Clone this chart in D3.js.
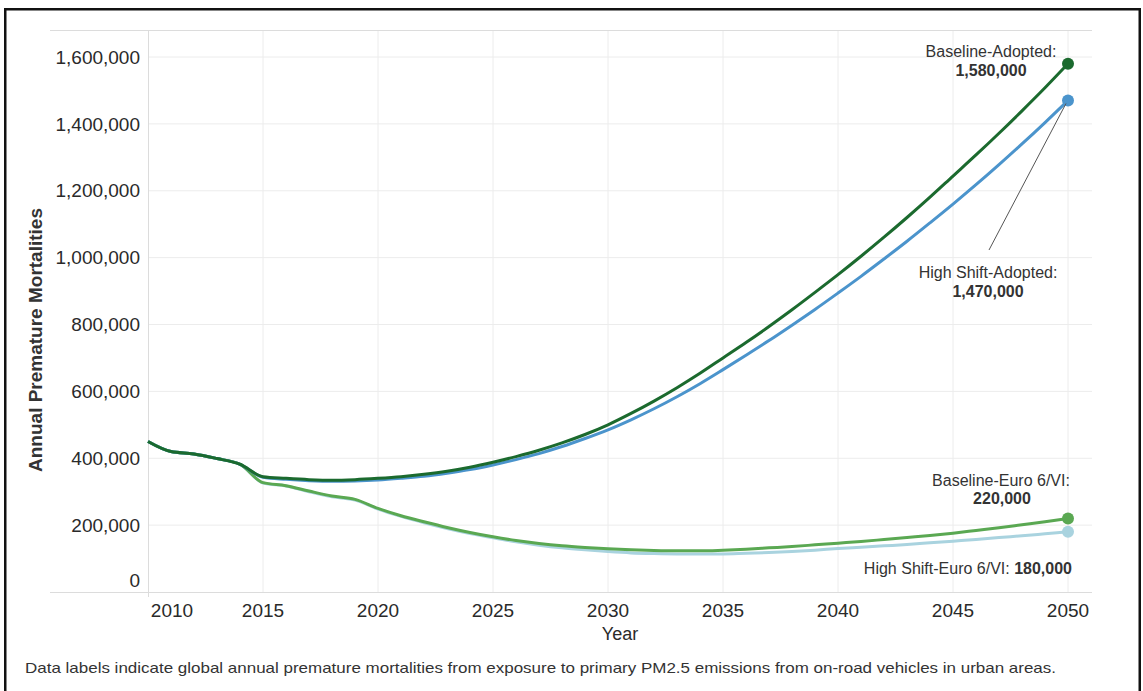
<!DOCTYPE html>
<html><head><meta charset="utf-8">
<script src="https://cdn.jsdelivr.net/npm/d3@7"></script>
<style>body{margin:0;background:#fff;}svg{display:block;font-family:Arial,"Liberation Sans",Helvetica,sans-serif;}</style>
</head><body><svg id="c" width="1143" height="691"></svg>
<script>
const years = d3.range(2010, 2051);
const baselineAdopted = [450,420,413,399,382,345,340,336,334,336,340,345,352,361,373,388,405,424,446,471,500,534,571,611,654,700,746,794,844,896,949,1004,1061,1120,1181,1244,1307,1372,1439,1508,1580].map(v=>v*1000);
const highShiftAdopted = [450,420,413,399,382,343,337,333,331,332,335,340,346,355,366,380,396,414,435,459,485,515,548,584,623,665,708,752,798,845,894,944,996,1049,1104,1160,1218,1278,1340,1404,1470].map(v=>v*1000);
const baselineEuro = [450,420,413,399,382,327,318,302,287,277,250,228,210,193,178,165,154,145,138,133,129,126,124,123,123,125,128,132,136,141,146,151,157,163,169,176,184,192,201,210,220].map(v=>v*1000);
const highShiftEuro = [450,420,413,399,382,326,317,300,285,275,248,226,207,190,175,162,150,140,132,126,121,117,115,114,114,114,116,118,121,125,130,134,138,142,147,152,157,163,168,174,180].map(v=>v*1000);
const yTicks = [0,200000,400000,600000,800000,1000000,1200000,1400000,1600000];
const xTicks = [2010,2015,2020,2025,2030,2035,2040,2045,2050];

const svg = d3.select("#c");
const x = d3.scaleLinear().domain([2010,2050]).range([148,1068]);
const y = d3.scaleLinear().domain([0,1600000]).range([592,57]);

// outer frame
svg.append("rect").attr("x",5.25).attr("y",9.25).attr("width",1134.5).attr("height",700).attr("fill","none").attr("stroke","#111").attr("stroke-width",2.5);

// gridlines
const g = svg.append("g");
g.selectAll(".hg").data(yTicks.slice(1)).join("line").attr("x1",148).attr("x2",1092).attr("y1",d=>y(d)).attr("y2",d=>y(d)).attr("stroke","#ececec").attr("stroke-width",1);
g.selectAll(".vg").data(xTicks.slice(1)).join("line").attr("x1",d=>x(d)).attr("x2",d=>x(d)).attr("y1",30).attr("y2",592).attr("stroke","#ececec").attr("stroke-width",1);
// plot frame lines
g.append("line").attr("x1",50).attr("x2",1092).attr("y1",30.5).attr("y2",30.5).attr("stroke","#dcdcdc");
g.append("line").attr("x1",50).attr("x2",1092).attr("y1",592.5).attr("y2",592.5).attr("stroke","#dcdcdc");
g.append("line").attr("x1",148.5).attr("x2",148.5).attr("y1",30).attr("y2",597).attr("stroke","#dcdcdc");

// y axis labels
svg.append("g").selectAll("text").data(yTicks).join("text")
  .attr("x",140).attr("y",d=> d===0 ? 580 : y(d)).attr("dy","0.35em").attr("text-anchor","end")
  .attr("font-size",19).attr("fill","#2a2a2a").text(d=>d3.format(",")(d));

// x axis labels
svg.append("clipPath").attr("id","xc").append("rect").attr("x",0).attr("y",590).attr("width",1089).attr("height",40);
svg.append("g").attr("clip-path","url(#xc)").selectAll("text").data(xTicks).join("text")
  .attr("x",d=> d===2010 ? x(d)+24 : x(d)).attr("y",610).attr("dy","0.35em").attr("text-anchor","middle")
  .attr("font-size",19).attr("fill","#2a2a2a").text(d=>d);

// axis titles
svg.append("text").attr("transform","translate(35,340) rotate(-90)").attr("text-anchor","middle").attr("dy","0.35em")
  .attr("font-size",19).attr("font-weight","bold").attr("fill","#333").text("Annual Premature Mortalities");
svg.append("text").attr("x",620).attr("y",634).attr("dy","0.35em").attr("text-anchor","middle").attr("font-size",18).attr("fill","#2a2a2a").text("Year");

// lines
const series = [
  {name:"High Shift-Euro 6/VI", vals:highShiftEuro, color:"#a9d3df"},
  {name:"Baseline-Euro 6/VI", vals:baselineEuro, color:"#5aa852"},
  {name:"High Shift-Adopted", vals:highShiftAdopted, color:"#4b94cc"},
  {name:"Baseline-Adopted", vals:baselineAdopted, color:"#1b6a2e"}
];
const line = d3.line().x((d,i)=>x(years[i])).y(d=>y(d)).curve(d3.curveMonotoneX);
series.forEach(s=>{
  svg.append("path").datum(s.vals).attr("d",line).attr("fill","none").attr("stroke",s.color).attr("stroke-width",3).attr("stroke-linejoin","round");
});
series.forEach(s=>{
  svg.append("circle").attr("cx",x(2050)).attr("cy",y(s.vals[s.vals.length-1])).attr("r",6).attr("fill",s.color);
});

// leader line
svg.append("line").attr("x1",x(2050)-2).attr("y1",y(1470000)+3).attr("x2",989).attr("y2",250).attr("stroke","#555").attr("stroke-width",1);

// data labels
function lab(xc,yc,t,bold,anchor){
  svg.append("text").attr("x",xc).attr("y",yc).attr("dy","0.35em").attr("text-anchor",anchor||"middle")
   .attr("font-size",16).attr("font-weight",bold?"bold":"normal").attr("fill","#333").text(t);
}
lab(991,51,"Baseline-Adopted:",false);
lab(991,70,d3.format(",")(baselineAdopted[40]),true);
lab(988,272,"High Shift-Adopted:",false);
lab(988,291,d3.format(",")(highShiftAdopted[40]),true);
lab(1001,480,"Baseline-Euro 6/VI:",false);
lab(1002,498,d3.format(",")(baselineEuro[40]),true);
const t4 = svg.append("text").attr("x",1072).attr("y",568).attr("dy","0.35em").attr("text-anchor","end").attr("font-size",16).attr("fill","#333");
t4.append("tspan").text("High Shift-Euro 6/VI: ");
t4.append("tspan").attr("font-weight","bold").text(d3.format(",")(highShiftEuro[40]));

// caption
svg.append("text").attr("x",25).attr("y",668).attr("dy","0.35em").attr("font-size",15).attr("fill","#333")
  .attr("textLength",1031).attr("lengthAdjust","spacingAndGlyphs")
  .text("Data labels indicate global annual premature mortalities from exposure to primary PM2.5 emissions from on-road vehicles in urban areas.");
</script></body></html>
